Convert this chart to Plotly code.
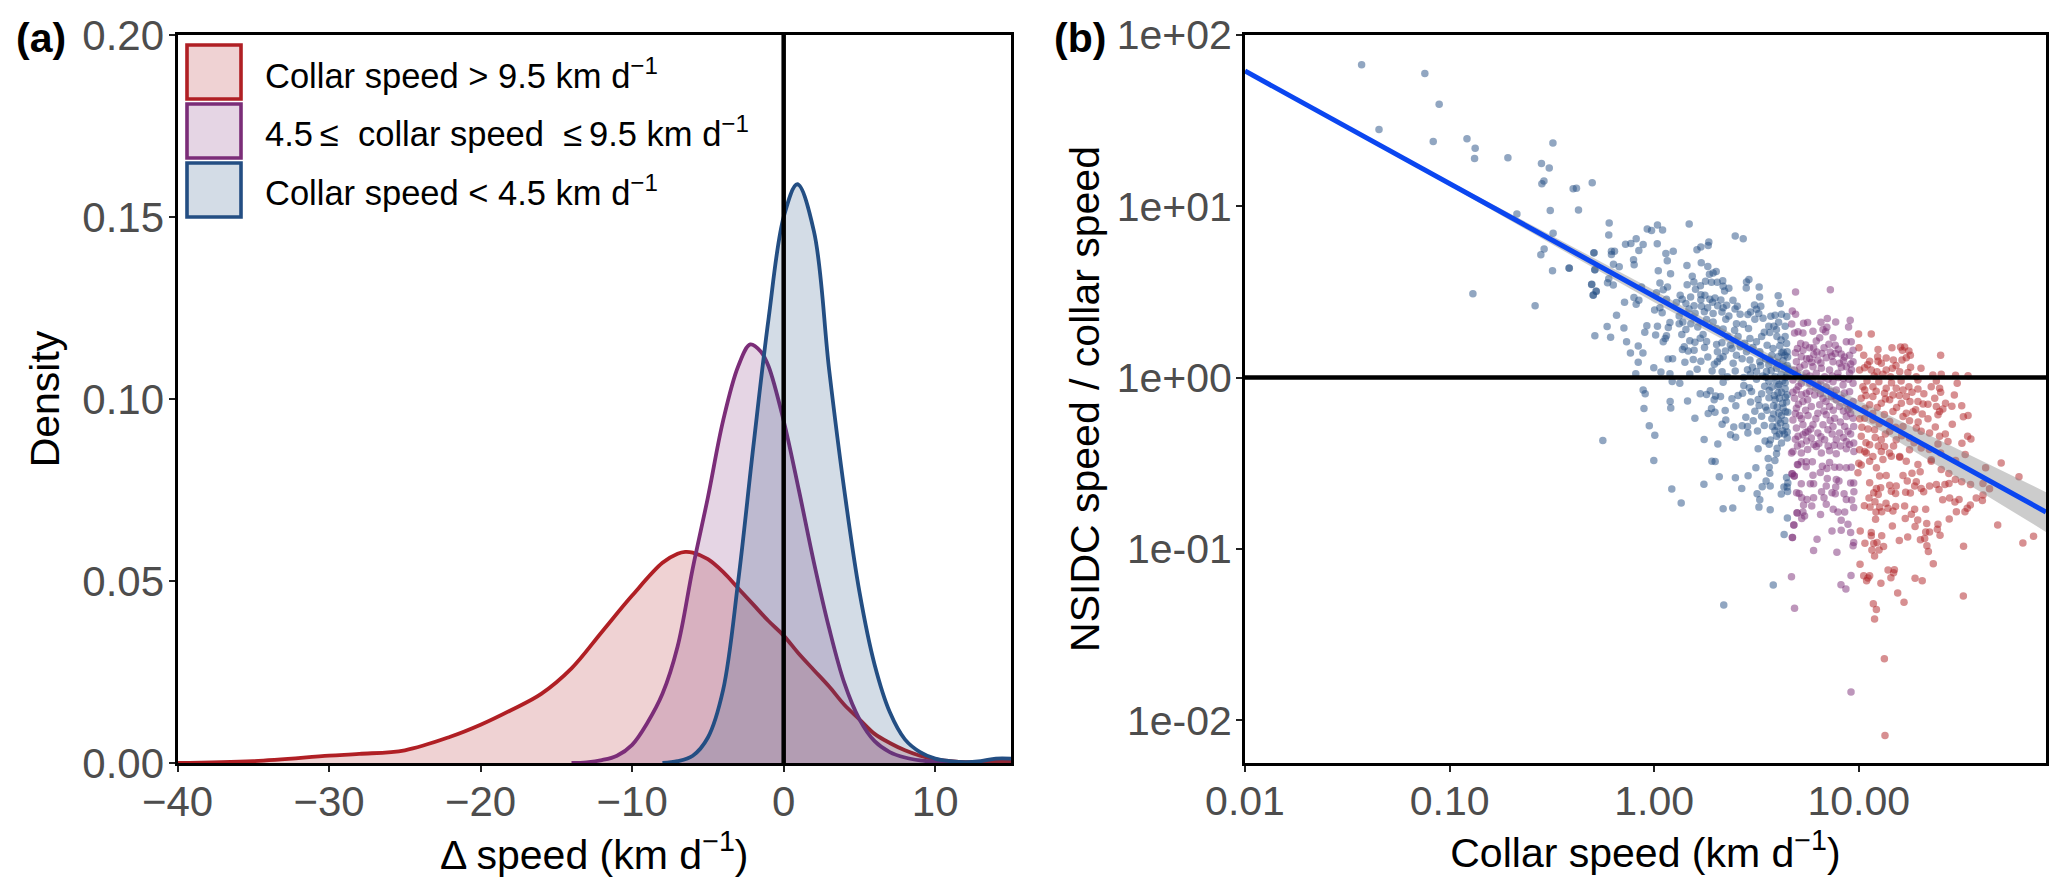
import plotly.graph_objects as go

# ---- panel (a): density curves ----
red_dx = [-40,-35,-30,-28,-25,-22,-20,-18,-16,-14,-12,-10,-8,-7,-6.5,-6,-5,-4,-3,-2,-1,0,1,2,3,4,5,6,7,8,9,10,11,12,13,14,15]
red_dy = [0,0.0005,0.002,0.0025,0.0035,0.0072,0.0105,0.0145,0.019,0.026,0.036,0.046,0.055,0.0575,0.058,0.0578,0.056,0.0525,0.048,0.0435,0.039,0.035,0.030,0.0255,0.021,0.016,0.012,0.008,0.0055,0.0035,0.002,0.001,0.0005,0.0002,0.0002,0.0004,0.0003]
purple_dx = [-14,-13,-12,-11,-10,-9,-8,-7,-6,-5,-4,-3,-2.2,-1.5,-1,0,1,2,3,4,5,6,7,8,9,10,11]
purple_dy = [0,0.0002,0.0008,0.002,0.005,0.011,0.019,0.032,0.0535,0.073,0.094,0.109,0.115,0.113,0.109,0.094,0.075,0.055,0.037,0.022,0.012,0.006,0.003,0.0015,0.0007,0.0003,0]
blue_dx = [-8,-7,-6,-5,-4,-3,-2,-1,0,0.9,2,3,4,5,6,7,8,9,10,11,12,13,14,15]
blue_dy = [0,0.0005,0.002,0.007,0.02,0.05,0.087,0.122,0.15,0.159,0.146,0.108,0.075,0.047,0.027,0.014,0.0065,0.003,0.0012,0.0005,0.0002,0.0005,0.0012,0.0012]

# ---- panel (b): points, (log10 collar speed, log10 speed ratio) ----
blue_points = [
(-1.430,1.827),(-1.121,1.775),(-1.051,1.595),(-1.345,1.448),(-1.080,1.378),(-0.915,1.395),(-0.875,1.339),(-0.878,1.279),(-0.715,1.283),(-0.495,1.370),
(-0.551,1.250),(-0.513,1.223),(-0.539,1.147),(-0.549,1.132),(-0.396,1.103),(-0.380,1.105),(-0.303,1.138),(-0.671,0.955),(-0.508,0.975),(-0.370,0.978),
(-0.494,0.843),(-0.538,0.750),(-0.554,0.717),(-0.294,0.729),(-0.497,0.624),(-0.416,0.640),(-0.290,0.630),(-0.305,0.545),(-0.284,0.506),(-0.298,0.481),
(-0.886,0.490),(-0.582,0.420),(-0.220,0.903),(-0.222,0.833),(-0.034,0.868),(-0.013,0.858),(0.016,0.891),(0.041,0.862),(0.171,0.897),(0.396,0.827),
(0.435,0.810),(-0.140,0.779),(-0.114,0.783),(-0.088,0.810),(-0.054,0.777),(-0.075,0.742),(0.015,0.781),(-0.295,0.728),(-0.209,0.738),(-0.194,0.738),
(-0.209,0.719),(0.057,0.724),(0.093,0.738),(0.209,0.746),(0.228,0.763),(0.264,0.771),(0.267,0.792),(-0.101,0.688),(-0.098,0.659),(0.064,0.682),
(-0.199,0.662),(-0.171,0.647),(0.160,0.655),(0.230,0.670),(0.262,0.649),(-0.415,0.639),(-0.290,0.629),(0.020,0.624),(0.080,0.606),(0.186,0.591),
(0.270,0.604),(0.288,0.610),(0.303,0.620),(-0.222,0.577),(-0.228,0.554),(-0.200,0.540),(-0.306,0.544),(-0.283,0.503),(-0.298,0.482),(0.028,0.552),
(-0.062,0.529),(0.065,0.529),(0.044,0.513),(0.011,0.496),(0.161,0.542),(0.194,0.558),(0.226,0.536),(0.202,0.515),(0.251,0.562),(0.280,0.556),
(0.308,0.556),(0.335,0.565),(0.337,0.533),(0.365,0.521),(0.344,0.505),(0.451,0.558),(0.463,0.573),(0.450,0.523),(0.513,0.529),(0.515,0.471),
(0.606,0.478),(0.616,0.432),(-0.099,0.467),(-0.075,0.451),(-0.088,0.428),(-0.145,0.440),(0.127,0.480),(0.178,0.471),(0.228,0.484),(0.248,0.480),
(0.228,0.455),(0.272,0.457),(0.297,0.465),(0.326,0.453),(0.385,0.451),(0.060,0.457),(0.108,0.438),(0.155,0.432),(0.137,0.457),(0.406,0.416),
(0.231,0.416),(0.261,0.407),(0.337,0.407),(0.354,0.422),(0.490,0.424),(0.521,0.416),(0.471,0.383),(0.500,0.399),(0.458,0.368),(0.511,0.374),
(0.002,0.395),(0.028,0.407),(0.039,0.379),(-0.184,0.364),(0.200,0.376),(0.331,0.383),(0.288,0.374),(0.365,0.360),(0.570,0.358),(0.591,0.364),
(0.622,0.370),(0.648,0.356),(0.532,0.346),(0.492,0.341),(0.608,0.323),(0.077,0.321),(0.122,0.360),(0.122,0.314),(-0.230,0.298),(-0.148,0.290),
(-0.036,0.302),(0.016,0.300),(0.069,0.292),(0.140,0.325),(0.155,0.281),(0.179,0.315),(0.213,0.296),(0.256,0.339),(0.288,0.325),(0.305,0.286),
(0.337,0.283),(0.402,0.315),(0.435,0.312),(0.393,0.277),(0.461,0.286),(0.598,0.281),(0.565,0.263),(0.538,0.265),(-0.290,0.244),(-0.213,0.236),
(-0.046,0.265),(0.007,0.248),(0.135,0.252),(0.060,0.244),(0.054,0.228),(0.044,0.209),(-0.135,0.209),(-0.078,0.184),(-0.116,0.143),(-0.055,0.143),
(-0.078,0.089),(-0.002,0.058),(0.033,0.033),(0.068,0.108),(0.090,0.110),(0.147,0.180),(0.138,0.164),(0.166,0.155),(0.195,0.159),(0.174,0.215),
(0.199,0.207),(0.239,0.252),(0.256,0.211),(0.305,0.193),(0.331,0.203),(0.309,0.151),(0.337,0.122),(0.321,0.112),(0.228,0.095),(0.210,0.048),
(0.309,0.093),(0.386,0.083),(0.402,0.131),(0.451,0.151),(0.468,0.228),(0.500,0.209),(0.516,0.151),(0.552,0.189),(0.581,0.170),(0.614,0.186),
(0.647,0.199),(0.650,0.151),(0.639,0.131),(0.606,0.122),(0.565,0.102),(0.516,0.093),(0.468,0.102),(0.500,0.035),(0.456,0.046),(0.396,0.038),
(0.332,0.034),(0.283,0.038),(0.174,0.021),(0.077,0.023),(-0.090,0.023),(0.549,0.035),(0.598,0.054),(0.633,0.063),(-0.054,-0.073),(-0.044,-0.095),
(0.088,-0.023),(0.125,-0.033),(0.078,-0.139),(0.081,-0.178),(0.163,-0.137),(-0.050,-0.180),(-0.024,-0.281),(0.003,-0.337),(-0.251,-0.368),(-0.002,-0.484),
(0.086,-0.651),(0.132,-0.732),(0.243,-0.622),(0.318,-0.579),(0.397,-0.585),(0.459,-0.573),(0.428,-0.647),(0.337,-0.765),(0.384,-0.761),(0.503,-0.678),
(0.516,-0.713),(0.512,-0.756),(0.567,-0.771),(0.528,-0.637),(0.547,-0.604),(0.567,-0.633),(0.497,-0.527),(0.562,-0.523),(0.565,-0.558),(0.282,-0.488),
(0.298,-0.490),(0.244,-0.362),(0.311,-0.387),(0.199,-0.238),(0.264,-0.209),(0.280,-0.180),(0.297,-0.203),(0.347,-0.192),(0.350,-0.248),(0.332,-0.273),
(0.389,-0.288),(0.430,-0.281),(0.456,-0.285),(0.458,-0.323),(0.505,-0.312),(0.538,-0.279),(0.373,-0.333),(0.398,-0.349),(0.508,-0.416),(0.542,-0.370),
(0.568,-0.364),(0.562,-0.389),(0.601,-0.413),(0.598,-0.444),(0.557,-0.473),(0.590,-0.484),(0.225,-0.095),(0.256,-0.099),(0.274,-0.077),(0.293,-0.130),
(0.300,-0.108),(0.324,-0.110),(0.380,-0.124),(0.399,-0.164),(0.410,-0.104),(0.432,-0.091),(0.471,-0.143),(0.476,-0.081),(0.525,-0.095),(0.562,-0.075),
(0.438,-0.046),(0.337,-0.027),(0.513,-0.163),(0.544,-0.172),(0.583,-0.164),(0.492,-0.197),(0.448,-0.232),(0.484,-0.252),(0.525,-0.225),(0.583,-0.213),
(0.609,-0.207),(0.630,-0.178),(0.591,-0.130),(0.622,-0.085),(0.606,-0.052),(0.650,-0.100),(0.647,-0.143),(0.653,-0.203),(0.606,-0.246),(0.601,-0.285),
(0.643,-0.285),(0.590,-0.310),(0.650,-0.318),(0.598,-0.343),(0.622,-0.382),(0.650,-0.352),(0.647,-0.583),(0.653,-0.616),(0.634,-0.639),(0.650,-0.639),
(0.652,-0.665),(0.621,-0.680),(0.651,-0.820),(0.635,-0.916),(0.582,-1.211),(0.340,-1.327),
(0.470,0.020),(0.500,-0.010),(0.530,0.010),(0.560,-0.020),(0.590,0.005),(0.620,0.020),(0.640,-0.030),(0.610,-0.040),(0.575,-0.055),(0.540,-0.050),
(0.480,0.060),(0.520,0.070),(0.560,0.075),(0.600,0.085),(0.630,0.100),(0.650,0.070),(0.650,0.020),(0.430,0.110),(0.420,0.180),(0.380,0.170),
(0.360,0.240),(0.410,0.240),(0.620,0.220),(0.640,0.240),(0.600,0.240),(0.630,0.150),(0.575,0.130),(0.545,0.110),(0.640,-0.065),(0.605,-0.090),
(0.612,-0.120),(0.628,-0.150),(0.641,-0.115),(0.587,-0.105),(0.561,-0.118),(0.601,-0.172),(0.622,-0.222),(0.639,-0.250),(0.618,-0.265),(0.575,-0.240),
(0.628,-0.310),(0.612,-0.330),(0.578,-0.285),(0.642,-0.200),(0.636,-0.330),(0.551,-0.190),(0.508,-0.128),(0.465,-0.060),(0.437,0.000),(0.358,0.005),
(0.294,0.078),(0.262,0.120),(0.246,0.175),(0.225,0.230),(0.191,0.105),(0.150,0.090),(0.372,0.190),(0.348,0.155),(0.442,0.200),(0.483,0.175),
(0.525,0.240),(0.560,0.300),(0.420,0.370),(0.395,0.400),(0.350,0.340),(0.310,0.420),(0.285,0.440),(0.245,0.385),(0.195,0.420),(0.170,0.400),
(0.640,0.300),(0.585,0.300),(0.622,0.145),(0.652,0.120),(0.655,0.050),(0.643,0.000),(0.628,-0.020),(0.595,-0.018),(0.572,0.040),(0.545,0.002),
]

purple_points = [
(0.671,-1.163),(0.686,-1.347),(0.676,-0.934),(0.683,-0.860),(0.699,-0.790),(0.673,-0.562),(0.684,-0.575),(0.700,-0.508),(0.671,-0.440),(0.696,-0.672),
(0.691,0.500),(0.861,0.513),(0.675,0.389),(0.691,0.370),(0.672,0.313),(0.730,0.317),(0.750,0.321),(0.815,0.323),(0.846,0.345),(0.887,0.325),
(0.958,0.335),(0.950,0.296),(0.844,0.294),(0.825,0.281),(0.838,0.267),(0.776,0.271),(0.703,0.267),(0.686,0.261),(0.727,0.261),(0.809,0.232),
(0.874,0.232),(0.792,0.213),(0.716,0.199),(0.854,0.195),(0.885,0.189),(0.939,0.209),(0.963,0.209),(0.760,0.174),(0.779,0.174),(0.830,0.174),
(0.727,0.160),(0.914,0.137),(0.972,0.160),(0.955,0.131),(0.719,0.122),(0.760,0.112),(0.800,0.102),(0.841,0.116),(0.874,0.093),(0.906,0.083),
(0.939,0.064),(0.972,0.093),(0.695,0.093),(0.735,0.073),(0.776,0.064),(0.817,0.054),(0.857,0.044),(0.898,0.025),(0.955,0.025),(0.686,0.044),
(0.743,0.025),(0.792,0.025),(0.833,0.005),(0.874,-0.024),(0.923,-0.043),(0.972,-0.033),(0.678,-0.014),(0.719,-0.033),(0.760,-0.033),(0.800,-0.043),
(0.841,-0.053),(0.890,-0.072),(0.955,-0.082),(0.695,-0.072),(0.743,-0.092),(0.784,-0.101),(0.825,-0.121),(0.866,-0.111),(0.914,-0.121),(0.972,-0.140),
(0.686,-0.121),(0.727,-0.140),(0.768,-0.169),(0.809,-0.159),(0.857,-0.169),(0.906,-0.169),(0.947,-0.188),(0.695,-0.179),(0.711,-0.221),(0.752,-0.221),
(0.800,-0.208),(0.841,-0.217),(0.882,-0.237),(0.939,-0.227),(0.972,-0.237),(0.678,-0.247),(0.727,-0.276),(0.776,-0.276),(0.825,-0.276),(0.874,-0.285),
(0.931,-0.285),(0.975,-0.285),(0.695,-0.295),(0.752,-0.314),(0.800,-0.324),(0.849,-0.305),(0.906,-0.324),(0.947,-0.314),(0.703,-0.343),(0.727,-0.334),
(0.768,-0.353),(0.833,-0.363),(0.890,-0.363),(0.939,-0.373),(0.975,-0.382),(0.719,-0.388),(0.678,-0.431),(0.792,-0.402),(0.857,-0.427),(0.890,-0.444),
(0.939,-0.415),(0.976,-0.431),(0.719,-0.440),(0.817,-0.440),(0.719,-0.492),(0.743,-0.492),(0.773,-0.492),(0.703,-0.509),(0.743,-0.521),(0.822,-0.517),
(0.844,-0.531),(0.857,-0.496),(0.882,-0.523),(0.906,-0.523),(0.939,-0.527),(0.963,-0.523),(0.812,-0.554),(0.776,-0.570),(0.675,-0.562),(0.685,-0.575),
(0.846,-0.589),(0.890,-0.595),(0.903,-0.604),(0.719,-0.620),(0.763,-0.620),(0.779,-0.620),(0.960,-0.616),(0.975,-0.616),(0.841,-0.633),(0.887,-0.639),
(0.818,-0.666),(0.869,-0.672),(0.885,-0.678),(0.928,-0.678),(0.976,-0.666),(0.708,-0.676),(0.721,-0.701),(0.747,-0.711),(0.779,-0.701),(0.830,-0.701),
(0.939,-0.711),(0.965,-0.715),(0.730,-0.744),(0.770,-0.750),(0.841,-0.740),(0.975,-0.759),(0.698,-0.789),(0.727,-0.785),(0.735,-0.808),(0.721,-0.823),
(0.813,-0.800),(0.875,-0.769),(0.898,-0.785),(0.931,-0.785),(0.914,-0.833),(0.914,-0.891),(0.869,-0.895),(0.947,-0.856),(0.682,-0.860),(0.960,-0.905),
(0.675,-0.934),(0.796,-0.944),(0.975,-0.963),(0.972,-0.982),(0.779,-1.009),(0.893,-1.019),(0.962,-1.155),(0.913,-1.209),(0.937,-1.234),(0.962,-1.835),
(0.700,0.170),(0.740,0.190),(0.780,0.135),(0.820,0.140),(0.860,0.150),(0.900,0.165),(0.930,0.120),(0.700,0.020),(0.760,0.010),(0.850,-0.010),
(0.900,0.000),(0.950,-0.010),(0.720,-0.100),(0.790,-0.060),(0.860,-0.080),(0.930,-0.090),(0.750,-0.130),(0.840,-0.140),(0.890,-0.130),(0.960,-0.170),
(0.720,-0.240),(0.790,-0.240),(0.860,-0.250),(0.910,-0.260),(0.740,-0.320),(0.780,-0.390),(0.850,-0.400),(0.910,-0.400),(0.700,-0.400),(0.750,-0.420),
(0.690,0.145),(0.712,0.060),(0.745,0.110),(0.770,0.090),(0.795,0.150),(0.815,0.085),(0.868,0.125),(0.885,0.140),(0.915,0.060),(0.925,0.100),
(0.960,0.080),(0.965,0.045),(0.705,-0.050),(0.735,0.000),(0.775,-0.010),(0.815,-0.020),(0.870,0.010),(0.925,-0.005),(0.678,-0.085),(0.705,-0.155),
(0.760,-0.080),(0.812,-0.095),(0.880,-0.105),(0.940,-0.150),(0.690,-0.210),(0.740,-0.190),(0.830,-0.195),(0.875,-0.190),(0.925,-0.195),(0.960,-0.210),
(0.765,-0.300),(0.815,-0.345),(0.870,-0.330),(0.925,-0.350),(0.960,-0.330),(0.690,-0.360),(0.745,-0.370),(0.805,-0.385),(0.880,-0.395),(0.955,-0.390),
]

red_points = [
(1.696,-0.498),(1.783,-0.579),(1.620,-0.527),(1.520,-0.449),(1.473,-0.484),(1.403,-0.537),(1.354,-0.488),(1.289,-0.508),(1.232,-0.488),(1.200,-0.465),
(1.159,-0.459),(1.118,-0.478),(1.086,-0.527),(1.053,-0.488),(1.012,-0.511),(1.037,-0.440),(0.996,-0.556),(1.134,-0.571),(1.216,-0.571),(1.260,-0.558),
(1.237,-0.604),(1.053,-0.614),(1.102,-0.575),(1.151,-0.628),(1.183,-0.633),(1.086,-0.647),(1.107,-0.643),(1.159,-0.663),(1.180,-0.676),(1.073,-0.672),
(1.095,-0.682),(1.229,-0.670),(1.252,-0.674),(1.273,-0.633),(1.281,-0.608),(1.305,-0.647),(1.317,-0.666),(1.346,-0.633),(1.379,-0.624),(1.392,-0.653),
(1.421,-0.624),(1.441,-0.618),(1.472,-0.595),(1.503,-0.608),(1.546,-0.624),(1.607,-0.618),(1.639,-0.649),(1.607,-0.686),(1.604,-0.717),(1.574,-0.703),
(1.490,-0.711),(1.470,-0.727),(1.444,-0.703),(1.410,-0.713),(1.545,-0.744),(1.530,-0.763),(1.519,-0.783),(1.477,-0.783),(1.442,-0.825),(1.679,-0.860),
(1.854,-0.926),(1.802,-0.965),(1.512,-0.984),(1.387,-0.856),(1.384,-0.885),(1.397,-0.920),(1.346,-0.901),(1.327,-0.901),(1.332,-0.852),(1.288,-0.831),
(1.275,-0.870),(1.327,-0.769),(1.273,-0.769),(1.257,-0.798),(1.227,-0.823),(1.224,-0.750),(1.180,-0.752),(1.167,-0.779),(1.143,-0.763),(1.133,-0.734),
(1.102,-0.756),(1.112,-0.783),(1.084,-0.785),(1.082,-0.827),(1.079,-0.725),(1.055,-0.756),(1.027,-0.748),(1.050,-0.703),(1.164,-0.866),(1.061,-0.905),
(1.007,-0.895),(1.061,-0.924),(1.112,-0.924),(1.239,-0.930),(1.198,-0.951),(1.301,-0.946),(1.322,-0.940),(1.030,-0.967),(1.073,-0.969),(1.089,-0.963),
(1.121,-0.986),(1.099,-1.006),(1.064,-1.006),(1.077,-1.042),(1.333,-0.982),(1.340,-1.015),(1.364,-1.087),(1.006,-1.089),(1.143,-1.124),(1.174,-1.122),
(1.170,-1.139),(1.157,-1.168),(1.024,-1.157),(1.053,-1.157),(1.045,-1.170),(1.038,-1.186),(1.108,-1.201),(1.275,-1.172),(1.310,-1.186),(1.190,-1.258),
(1.221,-1.312),(1.511,-1.275),(1.071,-1.320),(1.086,-1.354),(1.077,-1.409),(1.125,-1.641),(1.128,-2.089),
(0.999,0.255),(1.061,0.255),(1.400,0.131),(1.001,0.174),(1.094,0.164),(1.162,0.174),(1.204,0.178),(1.224,0.178),(1.213,0.160),(1.245,0.155),
(1.252,0.131),(1.232,0.116),(1.211,0.102),(1.169,0.102),(1.134,0.114),(1.092,0.122),(1.024,0.131),(1.053,0.096),(1.110,0.083),(1.094,0.096),
(1.028,0.058),(1.004,0.044),(1.061,0.044),(1.089,0.034),(1.134,0.044),(1.164,0.054),(1.200,0.034),(1.253,0.060),(1.304,0.054),(1.240,0.029),
(1.281,0.005),(1.362,0.015),(1.403,0.019),(1.473,0.013),(1.534,0.011),(1.481,-0.033),(1.379,-0.020),(1.289,-0.014),(1.354,-0.053),(1.395,-0.062),
(1.245,-0.053),(1.183,-0.062),(1.134,-0.062),(1.069,-0.053),(1.020,-0.053),(1.289,-0.066),(1.216,-0.072),(1.126,-0.091),(1.029,-0.072),(1.069,-0.111),
(1.167,-0.101),(1.232,-0.111),(1.318,-0.095),(1.400,-0.086),(1.467,-0.101),(1.371,-0.121),(1.151,-0.130),(1.012,-0.121),(1.289,-0.140),(1.208,-0.150),
(1.110,-0.150),(1.053,-0.159),(1.314,-0.154),(1.338,-0.155),(1.379,-0.169),(1.424,-0.150),(1.455,-0.167),(1.503,-0.165),(1.278,-0.188),(1.395,-0.198),
(1.411,-0.183),(1.310,-0.212),(1.232,-0.208),(1.167,-0.198),(1.338,-0.241),(1.387,-0.217),(1.534,-0.221),(1.511,-0.229),(1.457,-0.272),(1.374,-0.289),
(1.216,-0.227),(1.151,-0.256),(1.248,-0.252),(1.069,-0.247),(1.029,-0.237),(1.216,-0.285),(1.281,-0.295),(1.077,-0.305),(1.151,-0.314),(1.346,-0.324),
(1.423,-0.330),(1.532,-0.342),(1.548,-0.359),(1.504,-0.384),(1.436,-0.373),(1.395,-0.343),(1.387,-0.388),(1.305,-0.314),(1.248,-0.353),(1.183,-0.363),
(1.110,-0.363),(1.012,-0.343),(1.053,-0.392),(1.126,-0.402),(1.004,-0.421),(1.029,-0.431),(1.248,-0.421),(1.305,-0.411),(1.200,-0.460),(1.110,-0.431),
(1.354,-0.479),(1.069,-0.460),
(1.043,0.075),(1.075,0.010),(1.118,0.020),(1.155,0.005),(1.182,0.070),(1.040,-0.020),(1.098,-0.025),(1.160,-0.030),(1.207,-0.020),(1.085,-0.080),
(1.035,-0.105),(1.198,-0.105),(1.130,-0.125),(1.090,-0.175),(1.030,-0.180),(1.185,-0.175),(1.250,-0.140),(1.260,-0.085),(1.125,-0.215),(1.068,-0.210),
(1.005,-0.240),(1.100,-0.270),(1.180,-0.290),(1.045,-0.300),(1.015,-0.290),(1.265,-0.200),(1.290,-0.260),(1.130,-0.330),(1.080,-0.350),(1.035,-0.380),
(1.210,-0.340),(1.170,-0.400),(1.095,-0.400),(1.270,-0.380),(1.345,-0.420),(1.400,-0.440),(1.150,-0.440),(1.000,-0.500),(1.300,-0.550),(1.440,-0.560),
]

# regression line and its confidence ribbon, log10 units
fit_lx = [-2, 1.915]
fit_ly = [1.79, -0.785]
ribbon_lx = [-2, -1, -0.5, 0, 0.5, 1, 1.5, 1.915]
ribbon_half = [0.008, 0.012, 0.025, 0.035, 0.03, 0.05, 0.085, 0.116]

a_xticks = [-40, -30, -20, -10, 0, 10]
a_xlabels = ["−40", "−30", "−20", "−10", "0", "10"]
a_yticks = [0, 0.05, 0.10, 0.15, 0.20]
a_ylabels = ["0.00", "0.05", "0.10", "0.15", "0.20"]
b_xticks = [0.01, 0.1, 1, 10]
b_xlabels = ["0.01", "0.10", "1.00", "10.00"]
b_yticks = [0.01, 0.1, 1, 10, 100]
b_ylabels = ["1e-02", "1e-01", "1e+00", "1e+01", "1e+02"]

legend_labels = ["Collar speed &gt; 9.5 km d<sup>−1</sup>",
                 "4.5\u2009≤  collar speed  ≤\u20099.5 km d<sup>−1</sup>",
                 "Collar speed &lt; 4.5 km d<sup>−1</sup>"]

RED, PURPLE, BLUE = "#b01f24", "#7b2d78", "#234e83"
RED_F, PURPLE_F, BLUE_F = "rgba(176,31,36,0.2)", "rgba(123,45,120,0.2)", "rgba(35,78,131,0.2)"
FONT = "Liberation Sans"
# the page's body has an 8 px margin on each side of the figure
PAGE_W, PAGE_H, BODY = 2067, 891, 8
W, H = PAGE_W - 2 * BODY, PAGE_H - 2 * BODY
fx = lambda px: (px - BODY) / W
fy = lambda py: 1 - (py - BODY) / H

fig = go.Figure()

# density curves
for xs, ys, c, f in [(red_dx, red_dy, RED, RED_F), (purple_dx, purple_dy, PURPLE, PURPLE_F), (blue_dx, blue_dy, BLUE, BLUE_F)]:
    fig.add_trace(go.Scatter(x=xs, y=ys, mode="lines", line=dict(color=c, width=3.8, shape="spline", smoothing=1.0),
                             fill="tozeroy", fillcolor=f, showlegend=False, xaxis="x", yaxis="y"))
fig.add_trace(go.Scatter(x=[0, 0], y=[0, 0.2], mode="lines", line=dict(color="black", width=4.5), showlegend=False, xaxis="x", yaxis="y"))

# scatter
for pts, c in [(blue_points, BLUE), (purple_points, PURPLE), (red_points, RED)]:
    fig.add_trace(go.Scatter(x=[10 ** p[0] for p in pts], y=[10 ** p[1] for p in pts], mode="markers",
                             marker=dict(color=c, size=7.5, opacity=0.5, line=dict(width=0)),
                             showlegend=False, xaxis="x2", yaxis="y2"))

# ribbon
fit_at = lambda v: fit_ly[0] + (v - fit_lx[0]) * (fit_ly[1] - fit_ly[0]) / (fit_lx[1] - fit_lx[0])
upper = [10 ** (fit_at(v) + h) for v, h in zip(ribbon_lx, ribbon_half)]
lower = [10 ** (fit_at(v) - h) for v, h in zip(ribbon_lx, ribbon_half)]
rx = [10 ** v for v in ribbon_lx]
fig.add_trace(go.Scatter(x=rx + rx[::-1], y=upper + lower[::-1], mode="lines", fill="toself",
                         fillcolor="rgba(128,128,128,0.4)", line=dict(width=0), showlegend=False, xaxis="x2", yaxis="y2"))
fig.add_trace(go.Scatter(x=[10 ** v for v in fit_lx], y=[10 ** v for v in fit_ly], mode="lines",
                         line=dict(color="#0b46f0", width=5), showlegend=False, xaxis="x2", yaxis="y2"))
fig.add_trace(go.Scatter(x=[0.01, 10 ** 1.915], y=[1, 1], mode="lines", line=dict(color="black", width=4.5),
                         showlegend=False, xaxis="x2", yaxis="y2"))

axis_common = dict(showgrid=False, zeroline=False, showline=True, linecolor="black", linewidth=3, mirror=True,
                   ticks="outside", ticklen=6, tickwidth=2.2, tickcolor="#222222", automargin=False,
                   title_font=dict(family=FONT, size=41, color="black"))
font_a = dict(family=FONT, size=42, color="#4d4d4d")
font_b = dict(family=FONT, size=41, color="#4d4d4d")
ydom = [fy(763), fy(35)]
fig.update_layout(
    width=W, height=H, margin=dict(l=0, r=0, t=0, b=0), autosize=False, paper_bgcolor="white", plot_bgcolor="white",
    xaxis=dict(domain=[fx(177.5), fx(1011)], range=[-40, 15], tickvals=a_xticks, ticktext=a_xlabels, anchor="y", tickfont=font_a, ticklabelstandoff=-6,
               title=dict(text="Δ speed (km d<sup>−1</sup>)", standoff=8), **axis_common),
    yaxis=dict(domain=ydom, range=[0, 0.2], tickvals=a_yticks, ticktext=a_ylabels, anchor="x", tickfont=font_a, ticklabelstandoff=-4,
               title=dict(text="Density", standoff=10), **axis_common),
    xaxis2=dict(domain=[fx(1245), fx(2046)], type="log", range=[-2, 1.915], tickvals=b_xticks, ticktext=b_xlabels, anchor="y2", tickfont=font_b, ticklabelstandoff=-6,
                title=dict(text="Collar speed (km d<sup>−1</sup>)", standoff=8), **axis_common),
    yaxis2=dict(domain=ydom, type="log", range=[-2.25, 2.0], tickvals=b_yticks, ticktext=b_ylabels, anchor="x2", tickfont=font_b, ticklabelstandoff=-4,
                title=dict(text="NSIDC speed / collar speed", standoff=5), **axis_common),
)

# legend keys and labels drawn in page fractions
key_tops = [45, 104, 163]
for top, c, f, label in zip(key_tops, [RED, PURPLE, BLUE], [RED_F, PURPLE_F, BLUE_F], legend_labels):
    fig.add_shape(type="rect", xref="paper", yref="paper", x0=fx(187), x1=fx(241), y0=fy(top + 54), y1=fy(top),
                  line=dict(color=c, width=3.6), fillcolor=f)
    fig.add_annotation(xref="paper", yref="paper", x=fx(263), y=fy(top + 28), text=label, showarrow=False,
                       xanchor="left", yanchor="middle", font=dict(family=FONT, size=34.5, color="black"))

# panel labels
for x, t in [(14, "(a)"), (1052, "(b)")]:
    fig.add_annotation(xref="paper", yref="paper", x=fx(x), y=fy(38), text=f"<b>{t}</b>", showarrow=False,
                       xanchor="left", yanchor="middle", font=dict(family=FONT, size=41, color="black"))

fig.write_html("out.html")
